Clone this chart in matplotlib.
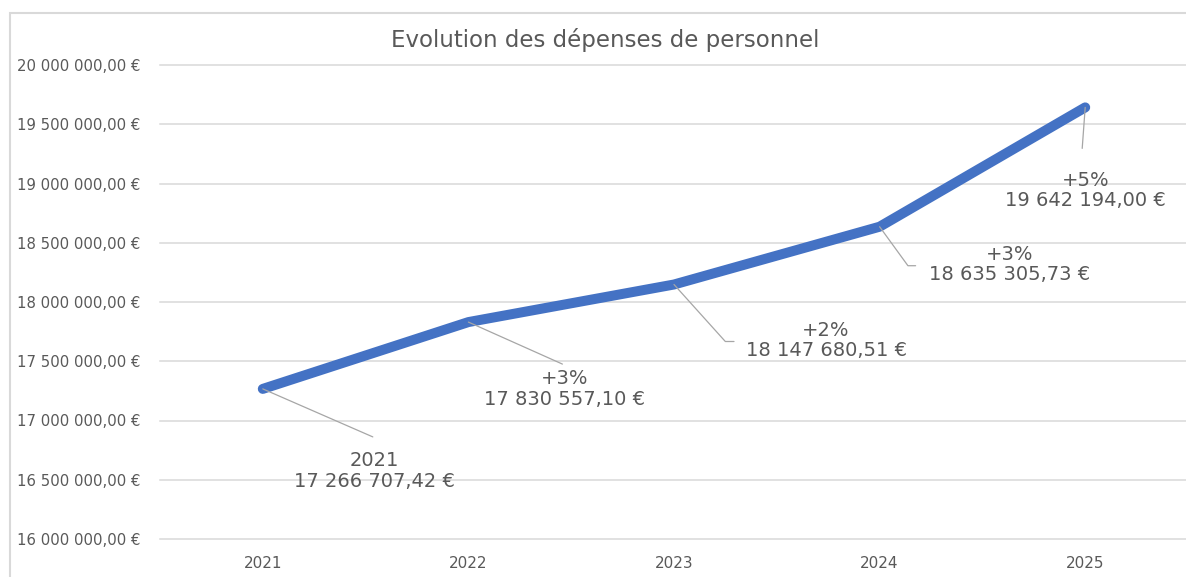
import matplotlib.pyplot as plt
import matplotlib.ticker as mtick
from matplotlib.patches import Rectangle
import numpy as np

years = ['2021', '2022', '2023', '2024', '2025']
depenses = [17266707.42, 17830557.10, 18147680.51, 18635305.73, 19642194.00]
evolution = ['2021', '+3%', '+2%', '+3%', '+5%']

# label placement (offsets in pixels from the point) and leader lines
text_off = [(112, -82), (96, -67), (152, -56), (130, -38), (0, -83)]
lead_off = [(110, -48), (94, -42), (60, -57), (36, -39), (-3, -41)]
lead_ang = [None, None, -48, -54, None]

grey = '#595959'
blue = '#4472C4'


def euro(v, pos=None):
    s = '{:,.2f}'.format(v).replace(',', ' ').replace('.', ',')
    return s + ' €'


fig = plt.figure(figsize=(11.86, 5.77), dpi=100)
ax = fig.add_axes([160 / 1186, 1 - 539 / 577, 1028 / 1186, 474 / 577])

fig.patches.append(Rectangle((10 / 1186, -0.1), 1.2, 1 - 13 / 577 + 0.1,
                             transform=fig.transFigure, fill=False,
                             edgecolor='#d9d9d9', linewidth=1.5))

x = np.arange(len(years))
ax.plot(x, depenses, color=blue, linewidth=7.2, solid_capstyle='round',
        solid_joinstyle='round', zorder=3)

ax.set_xlim(-0.5, len(years) - 0.5)
ax.set_ylim(16000000, 20000000)
ax.set_yticks(np.arange(16000000, 20000001, 500000))
ax.yaxis.set_major_formatter(mtick.FuncFormatter(euro))
ax.set_xticks(x)
ax.set_xticklabels(years)

ax.grid(axis='y', color='#d9d9d9', linewidth=1.1)
for gl in ax.get_ygridlines():
    gl.set_clip_on(False)
ax.set_axisbelow(True)
for s in ax.spines.values():
    s.set_visible(False)
ax.tick_params(axis='both', length=0, colors=grey, labelsize=10.7)
ax.tick_params(axis='x', labelsize=11, pad=12)
ax.tick_params(axis='y', pad=103)
for lab in ax.get_yticklabels():
    lab.set_horizontalalignment('left')

for i in range(len(years)):
    ax.annotate(evolution[i] + '\n' + euro(depenses[i]), xy=(x[i], depenses[i]),
                xytext=text_off[i], textcoords='offset pixels',
                ha='center', va='center', fontsize=14, linespacing=1.1,
                color=grey)
    if lead_ang[i] is None:
        cs = 'arc3,rad=0'
    else:
        cs = 'angle,angleA=0,angleB=%d,rad=0' % lead_ang[i]
    ax.annotate('', xy=(x[i], depenses[i]), xytext=lead_off[i],
                textcoords='offset pixels',
                arrowprops=dict(arrowstyle='-', color='#a6a6a6', lw=0.9,
                                shrinkA=0, shrinkB=0, connectionstyle=cs),
                zorder=4)

fig.text(605 / 1186, 1 - 40 / 577, 'Evolution des dépenses de personnel',
         ha='center', va='center', fontsize=16.5, color=grey)

fig.savefig('out.png', dpi=100)
